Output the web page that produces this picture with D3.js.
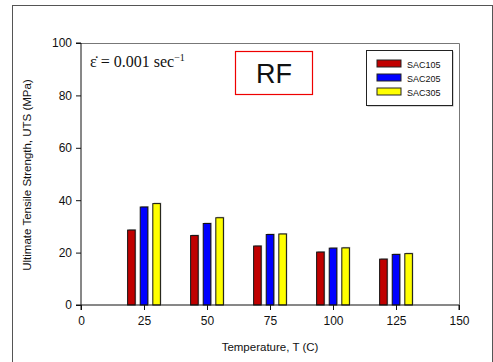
<!DOCTYPE html>
<html>
<head>
<meta charset="utf-8">
<script src="https://cdn.jsdelivr.net/npm/d3@7"></script>
<style>
  body { margin: 0; background: #fff; }
  svg text { font-family: Arial, "Liberation Sans", sans-serif; }
</style>
</head>
<body>
<svg class="uts-chart" width="493" height="362"></svg>
<script>
// UTS vs temperature, RF aged samples
const temps = [25, 50, 75, 100, 125];
const sac105 = [28.6, 26.5, 22.5, 20.2, 17.5];
const sac205 = [37.4, 31.1, 26.9, 21.7, 19.3];
const sac305 = [38.7, 33.3, 27.1, 21.8, 19.6];
const seriesNames = ['SAC105', 'SAC205', 'SAC305'];
const seriesColors = ['#c00000', '#0000ff', '#ffff00'];
const xTicks = [0, 25, 50, 75, 100, 125, 150];
const yTicks = [0, 20, 40, 60, 80, 100];

const svg = d3.select('svg.uts-chart');

const plot = { left: 81, right: 459, top: 43, bottom: 305 };

const xScale = d3.scaleLinear().domain([0, 150]).range([plot.left, plot.right]);
const yScale = d3.scaleLinear().domain([0, 100]).range([plot.bottom, plot.top]);

// outer frame
svg.append('rect')
  .attr('x', 12.5).attr('y', 5.5)
  .attr('width', 480).attr('height', 370)
  .attr('fill', 'none').attr('stroke', '#555').attr('stroke-width', 1);

// plot box (top & right)
svg.append('path')
  .attr('d', `M${plot.left},${plot.top + 0.5}H${plot.right + 0.5}V${plot.bottom}`)
  .attr('fill', 'none').attr('stroke', '#777');

// bars, offset around each temperature
const offsets = [-5, 0, 5];
const barW = 3;
const allSeries = [sac105, sac205, sac305];

const barData = [];
allSeries.forEach((vals, i) => {
  vals.forEach((v, j) => barData.push({ t: temps[j], v: v, s: i }));
});

const bars = svg.append('g');

// soft shadow behind the bars
bars.selectAll('rect.shadow').data(barData)
  .enter().append('rect')
    .attr('class', 'shadow')
    .attr('x', d => xScale(d.t + offsets[d.s] - barW / 2) + 1)
    .attr('y', d => yScale(d.v) - 1)
    .attr('width', xScale(barW) - xScale(0))
    .attr('height', d => yScale(0) - yScale(d.v))
    .attr('fill', '#bbb');

bars.selectAll('rect.bar').data(barData)
  .enter().append('rect')
    .attr('class', 'bar')
    .attr('x', d => xScale(d.t + offsets[d.s] - barW / 2))
    .attr('y', d => yScale(d.v))
    .attr('width', xScale(barW) - xScale(0))
    .attr('height', d => yScale(0) - yScale(d.v))
    .attr('fill', d => seriesColors[d.s])
    .attr('stroke', '#111')
    .attr('stroke-width', 1);

// axes
const yAxis = svg.append('g')
  .attr('transform', `translate(${plot.left},0)`)
  .call(d3.axisLeft(yScale).tickValues(yTicks).tickSize(5).tickPadding(4));

const xAxis = svg.append('g')
  .attr('transform', `translate(0,${plot.bottom})`)
  .call(d3.axisBottom(xScale).tickValues(xTicks).tickSize(5).tickPadding(6));

[yAxis, xAxis].forEach(ax => {
  ax.select('.domain').attr('stroke', '#111');
  ax.selectAll('.tick line').attr('stroke', '#111');
  ax.selectAll('.tick text')
    .attr('font-size', 12)
    .attr('fill', '#111');
});
yAxis.select('.domain').attr('d', `M-5,${plot.bottom}H0V${plot.top}H-5`);
xAxis.select('.domain').attr('d', `M${plot.left},5V0H${plot.right}V5`);

// axis titles
svg.append('text')
  .attr('transform', `translate(31,${(plot.top + plot.bottom) / 2 + 1}) rotate(-90)`)
  .attr('text-anchor', 'middle')
  .attr('font-size', 11.5)
  .attr('fill', '#111')
  .text('Ultimate Tensile Strength, UTS (MPa)');

svg.append('text')
  .attr('x', (plot.left + plot.right) / 2)
  .attr('y', 351)
  .attr('text-anchor', 'middle')
  .attr('font-size', 11.5)
  .attr('fill', '#111')
  .text('Temperature, T (C)');

// strain rate annotation (serif, like an equation)
const rate = svg.append('text')
  .attr('x', 90).attr('y', 67)
  .style('font-family', '"Liberation Serif", "Times New Roman", serif')
  .attr('font-size', 16)
  .attr('fill', '#111');
rate.append('tspan').text('\u03b5\u0307 = 0.001 sec');
rate.append('tspan').attr('dy', -6).attr('font-size', 10).text('\u22121');

// RF label box
svg.append('rect')
  .attr('x', 235.5).attr('y', 51.5)
  .attr('width', 77).attr('height', 43)
  .attr('fill', 'none').attr('stroke', '#ee0000').attr('stroke-width', 1.2);
svg.append('text')
  .attr('x', 274).attr('y', 83)
  .attr('text-anchor', 'middle')
  .attr('font-size', 27)
  .attr('fill', '#111')
  .text('RF');

// legend
const legend = svg.append('g').attr('transform', 'translate(366,50)');
legend.append('rect')
  .attr('x', 1.5).attr('y', 1.5).attr('width', 86).attr('height', 55)
  .attr('fill', '#aaa');
legend.append('rect')
  .attr('x', 0.5).attr('y', 0.5).attr('width', 86).attr('height', 55)
  .attr('fill', '#fff').attr('stroke', '#222');

const rows = legend.selectAll('g.row').data(seriesNames)
  .enter().append('g')
    .attr('class', 'row')
    .attr('transform', (d, i) => `translate(11,${10 + i * 14})`);
rows.append('rect')
  .attr('x', 0).attr('y', 0).attr('width', 24).attr('height', 7)
  .attr('fill', (d, i) => seriesColors[i])
  .attr('stroke', '#222');
rows.append('text')
  .attr('x', 30).attr('y', 7.5)
  .attr('font-size', 9)
  .attr('fill', '#111')
  .text(d => d);
</script>
</body>
</html>
